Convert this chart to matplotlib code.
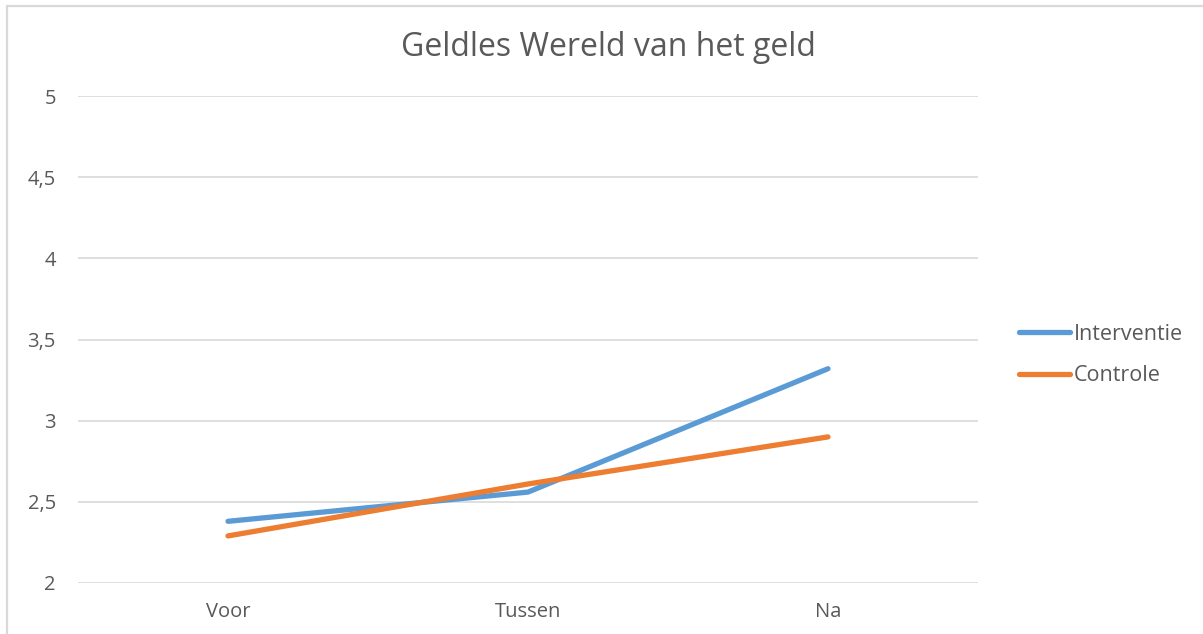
import matplotlib
matplotlib.use("Agg")
import matplotlib.pyplot as plt
import matplotlib.patches as mpatches

# data
categories = ["Voor", "Tussen", "Na"]
interventie = [2.38, 2.56, 3.32]
controle = [2.29, 2.61, 2.90]
y_ticks = [2, 2.5, 3, 3.5, 4, 4.5, 5]
y_tick_labels = ["2", "2,5", "3", "3,5", "4", "4,5", "5"]
title = "Geldles Wereld van het geld"

# palette
BLUE = "#5B9BD5"
ORANGE = "#ED7D31"
TEXT = "#595959"
GRID = "#D9D9D9"

plt.rcParams["font.family"] = ["Open Sans", "DejaVu Sans"]

W, H, DPI = 1203, 634, 100
fig = plt.figure(figsize=(W / DPI, H / DPI), dpi=DPI)
fig.patch.set_facecolor("white")

# chart area border (left + top, cut off right/bottom)
fig.add_artist(mpatches.Rectangle((7 / W, -0.1), 1.2, (H - 6) / H + 0.1,
                                  transform=fig.transFigure, fill=False,
                                  edgecolor=GRID, linewidth=1.6))

ax = fig.add_axes([78 / W, (H - 583) / H, 900 / W, 487 / H])
x = list(range(len(categories)))
ax.plot(x, interventie, color=BLUE, lw=3.8, solid_capstyle="round",
        solid_joinstyle="round", label="Interventie", zorder=3)
ax.plot(x, controle, color=ORANGE, lw=3.8, solid_capstyle="round",
        solid_joinstyle="round", label="Controle", zorder=3)

ax.set_xlim(-0.5, len(categories) - 0.5)
ax.set_ylim(2, 5)
ax.set_xticks(x)
ax.set_xticklabels(categories)
ax.set_yticks(y_ticks)
ax.set_yticklabels(y_tick_labels)
ax.tick_params(length=0, colors=TEXT, labelsize=14.5)
ax.tick_params(axis="y", pad=16)
ax.tick_params(axis="x", pad=14)
ax.grid(axis="y", color=GRID, lw=1.2, zorder=0)
for s in ax.spines.values():
    s.set_visible(False)

fig.text(608 / W, 1 - 48 / H, title, ha="center", va="center",
         fontsize=23, color=TEXT)

fig.legend(loc="center left", bbox_to_anchor=(1010 / W, 1 - 355 / H),
           frameon=False, fontsize=15.5, labelcolor=TEXT, handlelength=2.4,
           handletextpad=0.15, labelspacing=0.95, borderaxespad=0)

fig.savefig("out.png", dpi=DPI, facecolor="white")
plt.close(fig)
